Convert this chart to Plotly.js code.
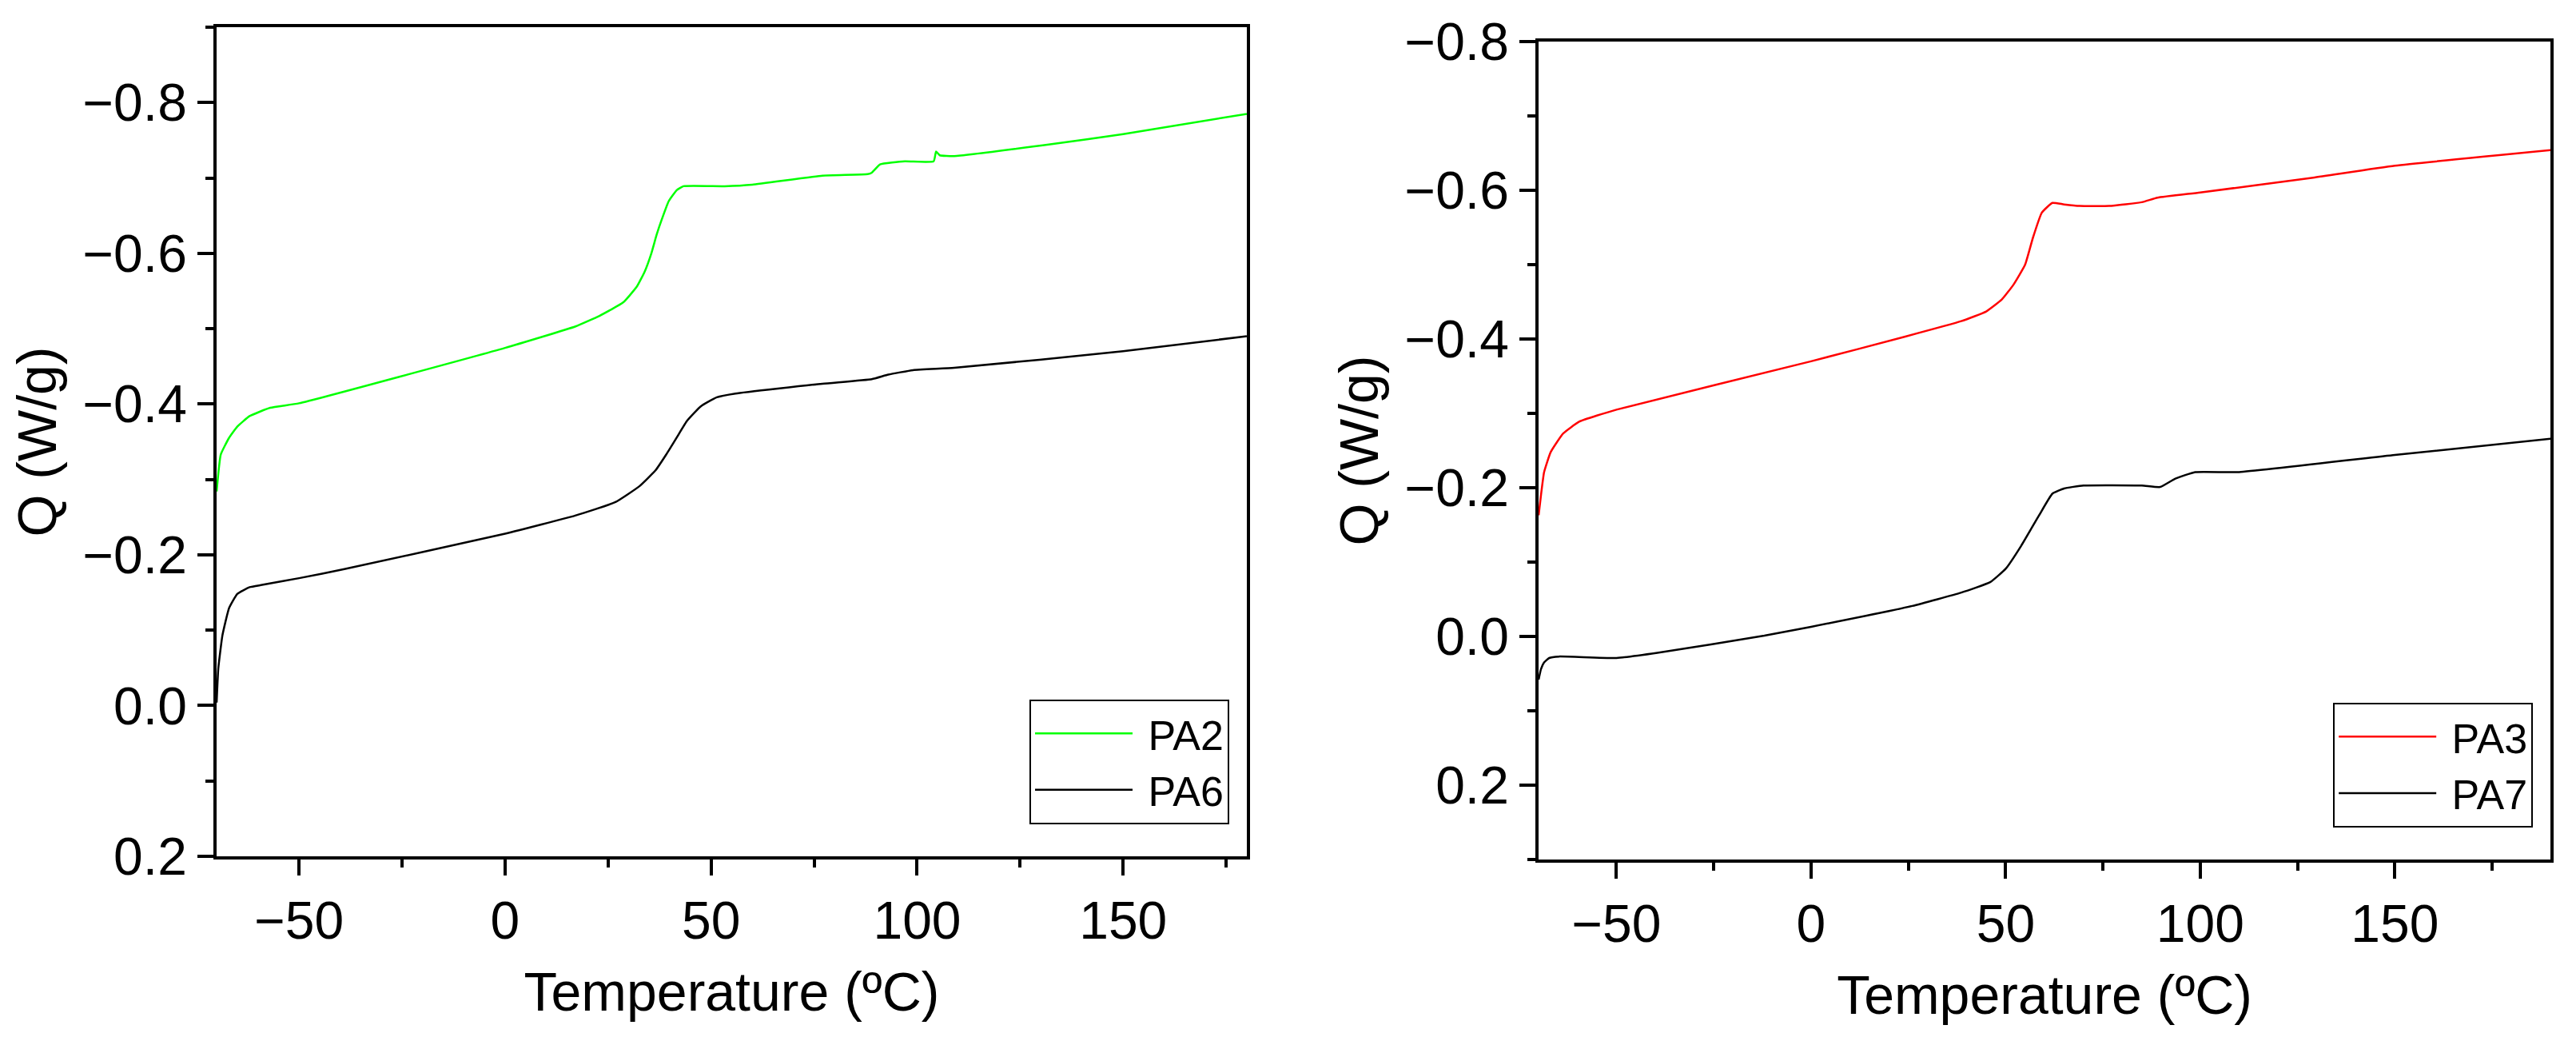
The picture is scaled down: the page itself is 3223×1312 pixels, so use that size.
<!DOCTYPE html>
<html>
<head>
<meta charset="utf-8">
<script src="https://cdn.plot.ly/plotly-3.0.1.min.js"></script>
<style>
  html, body { margin: 0; padding: 0; background: white; }
  #chart { width: 3223px; height: 1312px; }
</style>
</head>
<body>
<div id="chart"></div>
<script>
// values
const pa2_t = [-70, -69, -67, -65, -62, -57, -50, 0, 17.1, 22.9, 28.7, 32, 33.9, 35.5, 36.8, 38.1, 39.7, 41.7, 43.3, 53.3, 60, 77, 88, 89, 91, 97, 104, 104.6, 105.5, 109, 133, 150, 180];
const pa2_q = [-0.284, -0.333, -0.355, -0.370, -0.384, -0.395, -0.401, -0.4745, -0.503, -0.517, -0.535, -0.556, -0.576, -0.600, -0.625, -0.646, -0.669, -0.684, -0.689, -0.689, -0.691, -0.703, -0.705, -0.707, -0.718, -0.722, -0.722, -0.735, -0.730, -0.729, -0.745, -0.758, -0.785];

const pa6_t = [-70, -69.6, -68.6, -67, -65, -62, -59, -50, -39, 0, 17, 26.8, 32.6, 36.5, 39.1, 41.7, 44.2, 47.5, 51.4, 55.9, 77, 89, 93, 99, 109, 150, 180];
const pa6_q = [-0.004, -0.049, -0.093, -0.129, -0.148, -0.157, -0.160, -0.169, -0.181, -0.228, -0.252, -0.270, -0.291, -0.312, -0.333, -0.356, -0.378, -0.397, -0.409, -0.414, -0.427, -0.433, -0.439, -0.445, -0.448, -0.470, -0.490];

const pa3_t = [-70, -69.4, -68.6, -66.9, -63.7, -59.5, -50, 0, 24, 38.6, 45, 49, 52, 55, 57, 59.3, 62, 65, 69, 76.6, 85, 89, 100, 129, 150, 190];
const pa3_q = [-0.163, -0.190, -0.221, -0.248, -0.273, -0.289, -0.305, -0.370, -0.403, -0.424, -0.437, -0.453, -0.473, -0.500, -0.536, -0.570, -0.583, -0.581, -0.579, -0.579, -0.584, -0.590, -0.597, -0.617, -0.633, -0.654];

const pa7_t = [-70, -69.4, -68.6, -67.3, -64.8, -50, -39.5, -12, 0, 26, 38.6, 46, 50, 54, 58.6, 62, 65, 70, 85, 89.7, 93.5, 98.7, 110, 150, 190];
const pa7_q = [0.058, 0.044, 0.035, 0.029, 0.027, 0.029, 0.022, -0.001, -0.013, -0.041, -0.059, -0.073, -0.091, -0.122, -0.163, -0.192, -0.199, -0.203, -0.203, -0.201, -0.212, -0.221, -0.221, -0.244, -0.266];

const font_family = '"Liberation Sans", Arial, sans-serif';

function line(x, y, name, color, xa, ya, leg) {
  return {
    x: x, y: y, name: '\u00a0' + name, type: 'scatter', mode: 'lines',
    line: {color: color, width: 2.5, shape: 'spline', smoothing: 0.4},
    xaxis: xa, yaxis: ya, legend: leg
  };
}

const data = [
  line(pa2_t, pa2_q, 'PA2', '#00ff00', 'x', 'y', 'legend'),
  line(pa6_t, pa6_q, 'PA6', '#000000', 'x', 'y', 'legend'),
  line(pa3_t, pa3_q, 'PA3', '#ff0000', 'x2', 'y2', 'legend2'),
  line(pa7_t, pa7_q, 'PA7', '#000000', 'x2', 'y2', 'legend2')
];

function xax(domain, range, anchor) {
  return {
    domain: domain, range: range, anchor: anchor,
    showline: true, linewidth: 4, linecolor: 'black', mirror: true,
    showgrid: false, zeroline: false,
    ticks: 'outside', ticklen: 20, tickwidth: 4, tickcolor: 'black',
    dtick: 50, tick0: 0,
    minor: {dtick: 25, ticks: 'outside', ticklen: 10, tickwidth: 4, tickcolor: 'black', showgrid: false},
    tickfont: {size: 66, color: 'black'},
    title: {text: 'Temperature (ºC)', font: {size: 68, color: 'black'}, standoff: 30}
  };
}

function yax(domain, range, anchor) {
  return {
    domain: domain, range: range, anchor: anchor,
    showline: true, linewidth: 4, linecolor: 'black', mirror: true,
    showgrid: false, zeroline: false,
    ticks: 'outside', ticklen: 20, tickwidth: 4, tickcolor: 'black',
    dtick: 0.2, tick0: 0, tickformat: '.1f',
    minor: {dtick: 0.1, ticks: 'outside', ticklen: 10, tickwidth: 4, tickcolor: 'black', showgrid: false},
    tickfont: {size: 66, color: 'black'},
    title: {text: 'Q (W/g)', font: {size: 68, color: 'black'}, standoff: 12}
  };
}

function leg(x, y) {
  return {
    x: x, y: y, xanchor: 'right', yanchor: 'bottom',
    bordercolor: 'black', borderwidth: 2, bgcolor: 'white',
    font: {size: 52, color: 'black'},
    itemwidth: 122, tracegroupgap: 0
  };
}

const layout = {
  width: 3223, height: 1312,
  margin: {l: 0, r: 0, t: 0, b: 0},
  paper_bgcolor: 'white', plot_bgcolor: 'white',
  font: {family: font_family, color: 'black'},
  showlegend: true,
  xaxis: xax([0.0841, 0.4840], [-70, 180], 'y'),
  yaxis: yax([0.1837, 0.9741], [0.2, -0.9], 'x'),
  xaxis2: xax([0.5973, 0.9901], [-70, 190], 'y2'),
  yaxis2: yax([0.1806, 0.9604], [0.3, -0.8], 'x2'),
  legend: leg(0.4772, 0.2142),
  legend2: leg(0.9833, 0.2111)
};

Plotly.newPlot('chart', data, layout, {staticPlot: true});
</script>
</body>
</html>
